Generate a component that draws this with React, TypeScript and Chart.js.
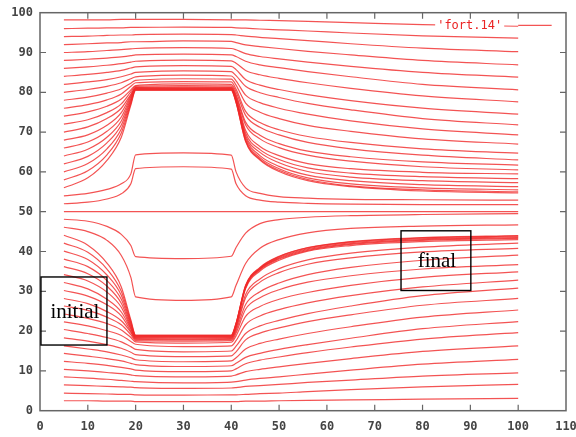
import React, { useEffect, useRef } from "react";
import { Chart, registerables } from "chart.js";

Chart.register(...registerables);

// x positions shared by every streamline
const gridX = [5, 10, 14, 17, 19, 20, 30, 40, 41, 43, 46, 50, 56, 65, 80, 100];

// streamlines above the centre line
const upperLines: number[][] = [
  [98.2, 98.2, 98.2, 98.3, 98.3, 98.3, 98.3, 98.2, 98.2, 98.2, 98.1, 98.0, 97.8, 97.5, 97.0, 96.6],
  [96.0, 96.1, 96.2, 96.2, 96.3, 96.3, 96.4, 96.3, 96.2, 96.1, 95.9, 95.7, 95.4, 94.9, 94.2, 93.6],
  [94.0, 94.1, 94.3, 94.4, 94.4, 94.5, 94.6, 94.5, 94.4, 94.1, 93.8, 93.5, 93.0, 92.2, 91.1, 90.2],
  [92.0, 92.2, 92.4, 92.5, 92.7, 92.7, 92.9, 92.8, 92.5, 91.9, 91.5, 91.0, 90.3, 89.4, 88.0, 86.9],
  [90.0, 90.2, 90.5, 90.7, 90.9, 91.0, 91.2, 91.0, 90.7, 89.7, 89.0, 88.4, 87.6, 86.5, 85.0, 83.8],
  [88.0, 88.3, 88.6, 88.9, 89.2, 89.4, 89.6, 89.4, 89.0, 87.8, 86.9, 86.2, 85.2, 83.9, 82.0, 80.6],
  [86.0, 86.4, 86.8, 87.2, 87.6, 87.8, 88.1, 87.9, 87.3, 85.5, 84.4, 83.5, 82.4, 81.0, 79.1, 77.6],
  [84.0, 84.5, 85.0, 85.5, 86.1, 86.4, 86.7, 86.5, 85.7, 83.2, 81.8, 80.7, 79.4, 77.9, 76.0, 74.5],
  [82.0, 82.6, 83.2, 83.9, 84.6, 85.0, 85.4, 85.2, 84.2, 81.5, 79.9, 78.7, 77.2, 75.6, 73.4, 71.8],
  [80.0, 80.7, 81.5, 82.4, 83.4, 83.9, 84.3, 84.1, 82.9, 79.3, 77.4, 76.0, 74.5, 72.8, 70.8, 69.3],
  [78.0, 78.8, 79.8, 80.9, 82.3, 83.0, 83.4, 83.3, 81.8, 77.3, 75.0, 73.4, 71.7, 70.2, 68.3, 67.0],
  [76.0, 76.9, 78.1, 79.6, 81.5, 82.4, 82.7, 82.6, 80.8, 75.2, 72.4, 70.6, 68.9, 67.4, 65.8, 64.7],
  [74.0, 75.1, 76.5, 78.3, 80.6, 81.7, 82.1, 82.0, 80.1, 74.2, 71.2, 69.3, 67.4, 65.8, 64.2, 63.0],
  [72.0, 73.1, 74.9, 77.1, 80.1, 81.5, 81.7, 81.6, 79.4, 72.5, 69.2, 67.1, 65.2, 63.8, 62.5, 61.7],
  [70.0, 71.3, 73.4, 76.0, 79.5, 81.2, 81.4, 81.3, 79.0, 71.8, 68.3, 66.1, 64.2, 62.7, 61.3, 60.5],
  [68.0, 69.3, 71.7, 74.9, 79.2, 81.2, 81.2, 81.2, 78.6, 70.4, 66.4, 64.1, 62.1, 60.8, 59.9, 59.5],
  [66.0, 67.5, 70.2, 73.8, 78.8, 81.0, 81.0, 81.0, 78.3, 69.7, 65.6, 63.1, 61.0, 59.7, 58.8, 58.3],
  [64.0, 65.7, 68.7, 72.8, 78.4, 80.9, 80.9, 80.9, 78.1, 69.1, 64.9, 62.3, 60.1, 58.7, 57.8, 57.3],
  [62.0, 63.9, 67.3, 71.8, 78.0, 80.8, 80.8, 80.8, 77.9, 68.6, 64.1, 61.4, 59.2, 57.8, 56.8, 56.3],
  [60.0, 62.1, 65.8, 70.8, 77.6, 80.7, 80.7, 80.7, 77.7, 68.1, 63.6, 60.8, 58.5, 57.0, 56.0, 55.5],
  [58.0, 60.3, 64.3, 69.8, 77.2, 80.6, 80.6, 80.6, 77.5, 67.8, 63.2, 60.4, 58.1, 56.5, 55.5, 55.0],
  [56.0, 58.5, 62.9, 68.7, 76.8, 80.5, 80.5, 80.5, 77.4, 67.6, 63.0, 60.1, 57.8, 56.3, 55.2, 54.7],
  [54.0, 54.6, 55.6, 57.0, 59.5, 64.3, 64.8, 64.2, 60.0, 56.0, 54.6, 53.8, 53.4, 53.1, 53.0, 52.9],
  [52.0, 52.4, 53.2, 54.5, 57.0, 60.8, 61.3, 60.7, 57.0, 54.0, 52.9, 52.4, 52.1, 51.9, 51.8, 51.8],
];

// straight centre streamline
const centerLine = [50, 50, 50, 50, 50, 50, 50, 50, 50, 50, 50, 50, 50, 50, 50, 50];

// streamlines below the centre line
const lowerLines: number[][] = [
  [48.1, 47.6, 46.3, 44.3, 41.5, 38.7, 38.2, 38.8, 41.0, 44.6, 47.0, 48.0, 48.6, 49.0, 49.3, 49.5],
  [46.1, 45.0, 42.8, 39.0, 33.5, 28.6, 27.7, 28.6, 31.5, 37.0, 40.8, 43.0, 44.7, 45.8, 46.4, 46.7],
  [44.1, 41.6, 37.1, 31.1, 22.8, 19.0, 19.0, 19.0, 22.0, 31.5, 36.0, 38.8, 41.0, 42.5, 43.5, 44.0],
  [42.1, 39.8, 35.6, 30.0, 22.4, 18.9, 18.9, 18.9, 21.9, 31.4, 35.9, 38.7, 40.9, 42.4, 43.4, 43.9],
  [40.1, 38.0, 34.1, 29.0, 22.0, 18.8, 18.8, 18.8, 21.8, 31.3, 35.7, 38.5, 40.7, 42.2, 43.2, 43.7],
  [38.1, 36.2, 32.7, 28.0, 21.6, 18.7, 18.7, 18.7, 21.7, 31.1, 35.6, 38.3, 40.5, 42.0, 43.0, 43.5],
  [36.2, 34.4, 31.3, 27.0, 21.2, 18.6, 18.6, 18.6, 21.5, 30.9, 35.4, 38.1, 40.3, 41.8, 42.8, 43.3],
  [34.2, 32.6, 29.8, 26.0, 20.8, 18.4, 18.4, 18.4, 21.4, 30.7, 35.1, 37.8, 40.1, 41.5, 42.5, 43.0],
  [32.2, 30.6, 28.0, 24.8, 20.5, 18.3, 18.2, 18.3, 20.9, 29.2, 33.1, 35.7, 37.9, 39.6, 41.1, 42.1],
  [30.2, 28.8, 26.6, 23.8, 20.0, 18.1, 18.0, 18.1, 20.6, 28.4, 32.3, 34.7, 36.8, 38.4, 39.9, 40.8],
  [28.2, 26.9, 24.9, 22.6, 19.7, 17.9, 17.8, 17.9, 20.1, 26.7, 29.9, 32.1, 34.2, 36.0, 37.8, 39.1],
  [26.3, 25.2, 23.5, 21.6, 19.1, 17.6, 17.5, 17.6, 19.5, 25.5, 28.4, 30.4, 32.3, 33.9, 35.6, 36.7],
  [24.3, 23.2, 21.9, 20.3, 18.4, 17.3, 17.0, 17.2, 18.8, 23.7, 26.2, 28.0, 29.7, 31.5, 33.5, 34.9],
  [22.3, 21.3, 20.1, 18.9, 17.4, 16.7, 16.1, 16.3, 17.6, 21.6, 23.8, 25.4, 27.1, 28.9, 31.1, 32.8],
  [20.4, 19.4, 18.4, 17.3, 16.1, 15.4, 14.8, 15.0, 16.2, 19.4, 21.3, 22.7, 24.4, 26.3, 28.9, 30.8],
  [18.3, 17.5, 16.6, 15.7, 14.7, 14.1, 13.6, 13.8, 14.8, 17.8, 19.5, 20.8, 22.4, 24.1, 26.5, 28.2],
  [16.3, 15.5, 14.8, 14.0, 13.3, 12.8, 12.3, 12.5, 13.3, 15.5, 16.9, 18.0, 19.4, 21.1, 23.5, 25.3],
  [14.4, 13.7, 13.1, 12.5, 11.9, 11.6, 11.1, 11.3, 11.9, 13.4, 14.4, 15.4, 16.6, 18.2, 20.6, 22.4],
  [12.4, 11.9, 11.4, 10.9, 10.5, 10.2, 9.8, 10.0, 10.5, 11.8, 12.7, 13.5, 14.6, 16.0, 18.0, 19.6],
  [10.4, 10.0, 9.6, 9.3, 9.0, 8.8, 8.5, 8.7, 9.0, 9.8, 10.4, 11.0, 11.9, 13.1, 14.9, 16.3],
  [8.5, 8.2, 7.9, 7.6, 7.4, 7.3, 7.0, 7.2, 7.3, 7.7, 8.1, 8.5, 9.2, 10.2, 11.7, 12.9],
  [6.5, 6.3, 6.1, 6.0, 5.9, 5.8, 5.6, 5.7, 5.8, 6.1, 6.3, 6.6, 7.1, 7.7, 8.7, 9.5],
  [4.4, 4.3, 4.2, 4.1, 4.1, 4.0, 3.9, 4.0, 4.0, 4.1, 4.3, 4.4, 4.8, 5.3, 6.0, 6.6],
  [2.5, 2.5, 2.4, 2.4, 2.4, 2.3, 2.3, 2.3, 2.3, 2.4, 2.4, 2.5, 2.6, 2.7, 2.9, 3.1],
];

// axes
const xTicks = [0, 10, 20, 30, 40, 50, 60, 70, 80, 90, 100, 110];
const yTicks = [0, 10, 20, 30, 40, 50, 60, 70, 80, 90, 100];

// key and annotation boxes (data coordinates: x0, y0, x1, y1)
const keyLabel = "'fort.14'";
const keyLine = [100, 107, 96.8]; // x start, x end, y
const initialBox = [0.2, 16.5, 14.0, 33.6];
const finalBox = [75.5, 30.2, 90.1, 45.2];
const boxLabels = ["initial", "final"];

const LINE_COLOR = "rgba(240, 40, 40, 0.8)";

const framePlugin = {
  id: "gnuplotFrame",
  afterDatasetsDraw(chart: any) {
    const { ctx, chartArea, scales } = chart;
    const xs = scales.x;
    const ys = scales.y;
    ctx.save();
    // key
    ctx.font = "12px 'DejaVu Sans Mono', monospace";
    const kx = xs.getPixelForValue(keyLine[0]);
    const kx2 = xs.getPixelForValue(keyLine[1]);
    const ky = ys.getPixelForValue(keyLine[2]);
    const tw = ctx.measureText(keyLabel).width;
    const tr = kx - 16;
    ctx.fillStyle = "#ffffff";
    ctx.fillRect(tr - tw - 2, ky - 7, tw + 4, 13);
    ctx.fillStyle = "rgb(235, 35, 35)";
    ctx.textAlign = "right";
    ctx.textBaseline = "middle";
    ctx.fillText(keyLabel, tr, ky);
    ctx.strokeStyle = LINE_COLOR;
    ctx.lineWidth = 1.3;
    ctx.beginPath();
    ctx.moveTo(kx, ky);
    ctx.lineTo(kx2, ky);
    ctx.stroke();

    // frame
    ctx.strokeStyle = "#666";
    ctx.lineWidth = 1.5;
    ctx.strokeRect(chartArea.left, chartArea.top, chartArea.right - chartArea.left, chartArea.bottom - chartArea.top);
    // inward ticks
    ctx.lineWidth = 1.2;
    ctx.beginPath();
    xTicks.slice(1, -1).forEach((v) => {
      const p = xs.getPixelForValue(v);
      ctx.moveTo(p, chartArea.bottom);
      ctx.lineTo(p, chartArea.bottom - 6);
      ctx.moveTo(p, chartArea.top);
      ctx.lineTo(p, chartArea.top + 6);
    });
    yTicks.slice(1, -1).forEach((v) => {
      const p = ys.getPixelForValue(v);
      ctx.moveTo(chartArea.left, p);
      ctx.lineTo(chartArea.left + 6, p);
      ctx.moveTo(chartArea.right, p);
      ctx.lineTo(chartArea.right - 6, p);
    });
    ctx.stroke();

    // annotation boxes
    const boxes = [initialBox, finalBox];
    ctx.strokeStyle = "#000";
    ctx.lineWidth = 1.4;
    ctx.fillStyle = "#000";
    ctx.font = "21px 'Liberation Serif', 'DejaVu Serif', serif";
    ctx.textAlign = "center";
    ctx.textBaseline = "middle";
    boxes.forEach((b, i) => {
      const x0 = xs.getPixelForValue(b[0]);
      const x1 = xs.getPixelForValue(b[2]);
      const y0 = ys.getPixelForValue(b[3]);
      const y1 = ys.getPixelForValue(b[1]);
      ctx.strokeRect(x0, y0, x1 - x0, y1 - y0);
      ctx.fillText(boxLabels[i], (x0 + x1) / 2 + 1, (y0 + y1) / 2 + 1);
    });
    ctx.restore();
  },
};

export default function App() {
  const canvasRef = useRef<HTMLCanvasElement | null>(null);

  useEffect(() => {
    document.body.style.margin = "0";
    if (!canvasRef.current) return;
    const rows = [...upperLines, centerLine, ...lowerLines];
    const datasets = rows.map((row, i) => ({
      label: `line${i}`,
      data: gridX.map((x, j) => ({ x, y: row[j] })),
      borderColor: LINE_COLOR,
      borderWidth: 1.2,
      pointRadius: 0,
      fill: false,
      cubicInterpolationMode: "monotone" as const,
    }));
    const tickFont = { family: "'DejaVu Sans Mono', monospace", size: 12, weight: "bold" as const };
    const chart = new Chart(canvasRef.current, {
      type: "line",
      data: { datasets },
      plugins: [framePlugin],
      options: {
        animation: false,
        responsive: true,
        maintainAspectRatio: false,
        layout: { padding: { top: 12.7, right: 0, left: 0, bottom: 0 } },
        plugins: { legend: { display: false }, tooltip: { enabled: false } },
        scales: {
          x: {
            type: "linear",
            min: 0,
            max: 110,
            afterBuildTicks: (s: any) => {
              s.ticks = xTicks.map((v) => ({ value: v }));
            },
            afterFit: (s: any) => {
              s.height = 26.3;
              s.paddingRight = 10;
              s.paddingLeft = 0;
            },
            ticks: { font: tickFont, color: "#444", padding: 9, maxRotation: 0, autoSkip: false },
            grid: { display: false, drawTicks: false },
            border: { display: false },
          },
          y: {
            type: "linear",
            min: 0,
            max: 100,
            afterBuildTicks: (s: any) => {
              s.ticks = yTicks.map((v) => ({ value: v }));
            },
            afterFit: (s: any) => {
              s.width = 40;
              s.paddingTop = 0;
              s.paddingBottom = 0;
            },
            ticks: { font: tickFont, color: "#444", padding: 7, autoSkip: false },
            grid: { display: false, drawTicks: false },
            border: { display: false },
          },
        },
      },
    });
    return () => chart.destroy();
  }, []);

  return (
    <div style={{ position: "absolute", left: 0, top: 0, width: 576, height: 437, background: "#fff" }}>
      <canvas ref={canvasRef} />
    </div>
  );
}
